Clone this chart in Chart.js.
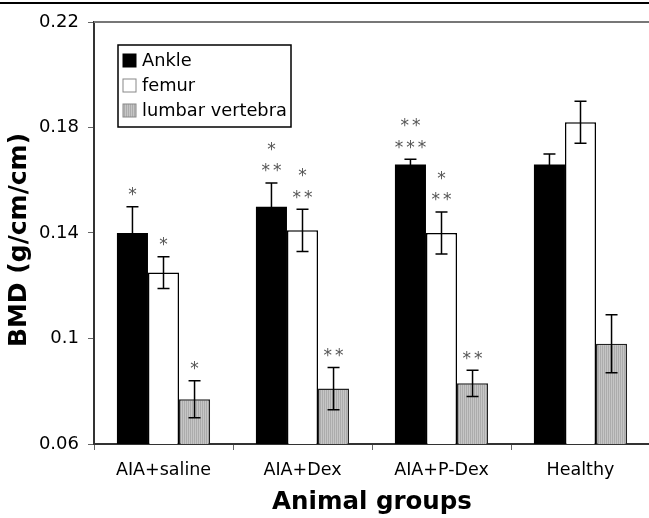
<!DOCTYPE html>
<html>
<head>
<meta charset="utf-8">
<script src="https://cdn.jsdelivr.net/npm/chart.js@4.4.0/dist/chart.umd.min.js"></script>
<style>
  html, body { margin: 0; padding: 0; background: #fff; overflow: hidden; }
  #wrap { position: absolute; left: 0; top: 0; width: 660px; height: 518px; }
</style>
</head>
<body>
<div id="wrap"><canvas id="myChart" width="660" height="518"></canvas></div>
<script>
var groups = ['AIA+saline', 'AIA+Dex', 'AIA+P-Dex', 'Healthy'];
var yTicks = [0.06, 0.1, 0.14, 0.18, 0.22];

var ankle = [0.140, 0.150, 0.166, 0.166];
var ankleErr = [0.010, 0.009, 0.002, 0.004];
var femur = [0.125, 0.141, 0.140, 0.182];
var femurErr = [0.006, 0.008, 0.008, 0.008];
var lumbar = [0.077, 0.081, 0.083, 0.098];
var lumbarErr = [0.007, 0.008, 0.005, 0.011];

// significance marks, bottom line first
var ankleStars = [['*'], ['**', '*'], ['***', '**'], []];
var femurStars = [['*'], ['**', '*'], ['**', '*'], []];
var lumbarStars = [['*'], ['**'], ['**'], []];

var FONT = '"DejaVu Sans", Verdana, sans-serif';

// vertical hatch for the grey bars
function hatch(){
  var c = document.createElement('canvas');
  c.width = 2; c.height = 2;
  var x = c.getContext('2d');
  x.fillStyle = '#c6c6c6'; x.fillRect(0, 0, 2, 2);
  x.fillStyle = '#acacac'; x.fillRect(0, 0, 1, 2);
  return x.createPattern(c, 'repeat');
}
var grey = hatch();

var errors = [ankleErr, femurErr, lumbarErr];
var stars = [ankleStars, femurStars, lumbarStars];

var extras = {
  id: 'extras',
  beforeDraw: function(chart){
    var ctx = chart.ctx;
    ctx.save();
    ctx.strokeStyle = '#000';
    ctx.lineWidth = 2;
    ctx.beginPath(); ctx.moveTo(0, 3); ctx.lineTo(chart.width, 3); ctx.stroke();
    ctx.restore();
  },
  afterDraw: function(chart){
    var ctx = chart.ctx;
    var y = chart.scales.y;
    var a = chart.chartArea;
    ctx.save();
    // plot border top
    ctx.strokeStyle = '#777';
    ctx.lineWidth = 2;
    ctx.beginPath(); ctx.moveTo(a.left, a.top); ctx.lineTo(a.right, a.top); ctx.stroke();

    // y title
    ctx.save();
    ctx.translate(19, (a.top + a.bottom) / 2 + 7);
    ctx.rotate(-Math.PI / 2);
    ctx.fillStyle = '#000';
    ctx.font = 'bold 25px ' + FONT;
    ctx.textAlign = 'center';
    ctx.textBaseline = 'middle';
    ctx.fillText('BMD (g/cm/cm)', 0, 0);
    ctx.restore();

    // error bars + stars
    ctx.strokeStyle = '#000';
    ctx.lineWidth = 1.5;
    chart.data.datasets.forEach(function(ds, d){
      var meta = chart.getDatasetMeta(d);
      meta.data.forEach(function(bar, i){
        var v = ds.data[i], e = errors[d][i];
        var yt = y.getPixelForValue(v + e), yb = y.getPixelForValue(v - e);
        ctx.beginPath();
        ctx.moveTo(bar.x, yt); ctx.lineTo(bar.x, yb);
        ctx.moveTo(bar.x - 6, yt); ctx.lineTo(bar.x + 6, yt);
        ctx.moveTo(bar.x - 6, yb); ctx.lineTo(bar.x + 6, yb);
        ctx.stroke();
        ctx.fillStyle = '#555';
        ctx.font = '17px ' + FONT;
        ctx.letterSpacing = '3px';
        ctx.textAlign = 'center';
        ctx.textBaseline = 'middle';
        stars[d][i].forEach(function(s, k){
          ctx.fillText(s, bar.x + 1.5, yt - 11 - k * 21.5);
        });
        ctx.letterSpacing = '0px';
      });
    });

    // legend
    var lx = a.left + 24, ly = a.top + 23;
    ctx.strokeStyle = '#000';
    ctx.lineWidth = 1.5;
    ctx.fillStyle = '#fff';
    ctx.fillRect(lx, ly, 173, 82);
    ctx.strokeRect(lx, ly, 173, 82);
    var fills = ['#000', '#fff', grey];
    chart.data.datasets.forEach(function(ds, d){
      var ry = ly + 16 + d * 25;
      ctx.fillStyle = fills[d];
      ctx.fillRect(lx + 5, ry - 7, 13, 13);
      ctx.lineWidth = 1;
      ctx.strokeStyle = d == 0 ? '#000' : '#888';
      ctx.strokeRect(lx + 5, ry - 7, 13, 13);
      ctx.fillStyle = '#000';
      ctx.font = '17.8px ' + FONT;
      ctx.textAlign = 'left';
      ctx.textBaseline = 'middle';
      ctx.fillText(ds.label, lx + 24, ry);
    });
    ctx.restore();
  }
};

var ctx = document.getElementById('myChart').getContext('2d');
var myChart = new Chart(ctx, {
  type: 'bar',
  data: {
    labels: groups,
    datasets: [
      { label: 'Ankle', data: ankle, backgroundColor: '#000', borderWidth: 0 },
      { label: 'femur', data: femur, backgroundColor: '#fff', borderColor: '#000', borderWidth: 1.5 },
      { label: 'lumbar vertebra', data: lumbar, backgroundColor: grey, borderColor: '#222', borderWidth: 1.5 }
    ]
  },
  options: {
    responsive: false,
    animation: false,
    layout: { padding: { left: 0, right: 10, top: 22, bottom: 0 } },
    datasets: { bar: { categoryPercentage: 0.67, barPercentage: 1.0 } },
    plugins: { legend: { display: false }, tooltip: { enabled: false } },
    scales: {
      x: {
        grid: { offset: true, drawOnChartArea: false, tickLength: 6, color: '#666', lineWidth: 1 },
        border: { color: '#333', width: 2 },
        ticks: { color: '#000', font: { family: FONT, size: 17.5 }, padding: 10 },
        title: { display: true, text: 'Animal groups', color: '#000', font: { family: FONT, size: 24.5, weight: 'bold' }, padding: { top: 4, bottom: 1 } },
        afterFit: function(s){ s.height = 74; }
      },
      y: {
        min: 0.06, max: 0.22,
        afterBuildTicks: function(s){ s.ticks = yTicks.map(function(v){ return { value: v }; }); },
        grid: { drawOnChartArea: false, tickLength: 6, color: '#666', lineWidth: 1 },
        border: { color: '#333', width: 2 },
        ticks: { color: '#000', font: { family: FONT, size: 18 }, padding: 9,
          callback: function(v){ return String(+v.toFixed(2)); } },
        afterFit: function(s){ s.width = 94; }
      }
    }
  },
  plugins: [extras]
});
</script>
</body>
</html>
